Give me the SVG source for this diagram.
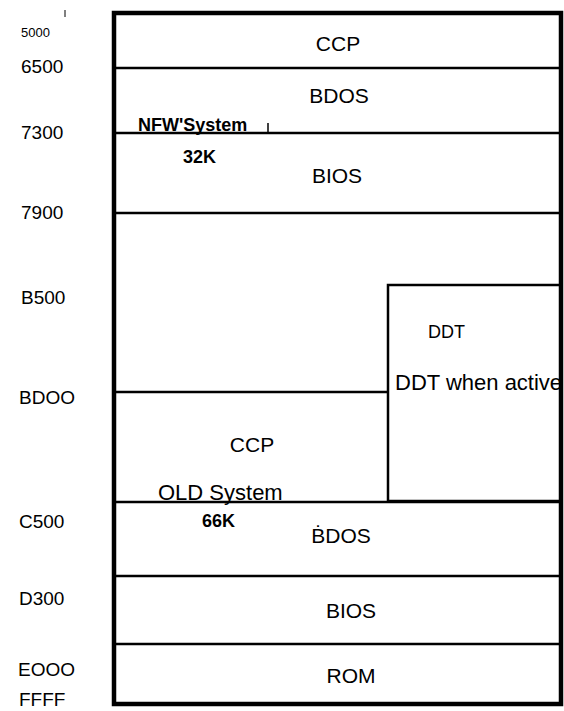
<svg xmlns="http://www.w3.org/2000/svg" width="564" height="711" viewBox="0 0 564 711">
<style>
text{font-family:"Liberation Sans",Arial,sans-serif;fill:#000}
.lab{font-size:19px}
.big{font-size:21px}
.b{font-weight:bold;font-size:18px}
.ln{stroke:#000;stroke-width:2.5;fill:none}
.out{stroke:#000;stroke-width:4.5;fill:none}
</style>
<defs>
<clipPath id="inner"><rect x="114" y="13" width="447" height="691"/></clipPath>
</defs>
<rect width="564" height="711" fill="#fff"/>
<g id="addresses">
<text x="21" y="37" font-size="13">5000</text>
<line x1="65" y1="10" x2="65" y2="17" stroke="#000" stroke-width="1"/>
<text class="lab" x="21" y="73">6500</text>
<text class="lab" x="21" y="139">7300</text>
<text class="lab" x="21" y="219">7900</text>
<text class="lab" x="21" y="304">B500</text>
<text class="lab" x="19" y="404">BDOO</text>
<text class="lab" x="19" y="528">C500</text>
<text class="lab" x="19" y="605">D300</text>
<text class="lab" x="18" y="676">EOOO</text>
<text class="lab" x="19" y="706">FFFF</text>
</g>
<g id="connectors">
<line class="ln" x1="114" y1="68" x2="561" y2="68"/>
<line class="ln" x1="114" y1="133" x2="561" y2="133"/>
<line x1="268" y1="123" x2="268" y2="133" stroke="#000" stroke-width="1.5"/>
<line class="ln" x1="114" y1="213" x2="561" y2="213"/>
<line class="ln" x1="114" y1="392" x2="388" y2="392"/>
<line class="ln" x1="114" y1="502" x2="561" y2="502"/>
<line class="ln" x1="114" y1="576" x2="561" y2="576"/>
<line class="ln" x1="114" y1="644" x2="561" y2="644"/>
</g>
<g id="ccp-new"><text class="big" x="338" y="51" text-anchor="middle">CCP</text></g>
<g id="bdos-new"><text class="big" x="339" y="103" text-anchor="middle">BDOS</text></g>
<g id="new-system">
<text class="b" x="138" y="131" font-size="19.5">NFW'System</text>
<text class="b" x="183" y="163">32K</text>
</g>
<g id="bios-new"><text class="big" x="337" y="183" text-anchor="middle">BIOS</text></g>
<g id="ddt">
<rect x="388" y="285" width="173" height="216" class="ln"/>
<text x="428" y="338" font-size="18">DDT</text>
<text x="395" y="390" font-size="22" clip-path="url(#inner)">DDT when active</text>
</g>
<g id="ccp-old"><text class="big" x="252" y="452" text-anchor="middle">CCP</text></g>
<g id="old-system">
<text x="158" y="500" font-size="22">OLD System</text>
<text class="b" x="202" y="527" font-size="17">66K</text>
</g>
<g id="bdos-old"><text class="big" x="341" y="543" text-anchor="middle">ḂDOS</text></g>
<g id="bios-old"><text class="big" x="351" y="618" text-anchor="middle">BIOS</text></g>
<g id="rom"><text class="big" x="351" y="683" text-anchor="middle">ROM</text></g>
<rect id="frame" x="114" y="13" width="447" height="691" class="out"/>
</svg>
